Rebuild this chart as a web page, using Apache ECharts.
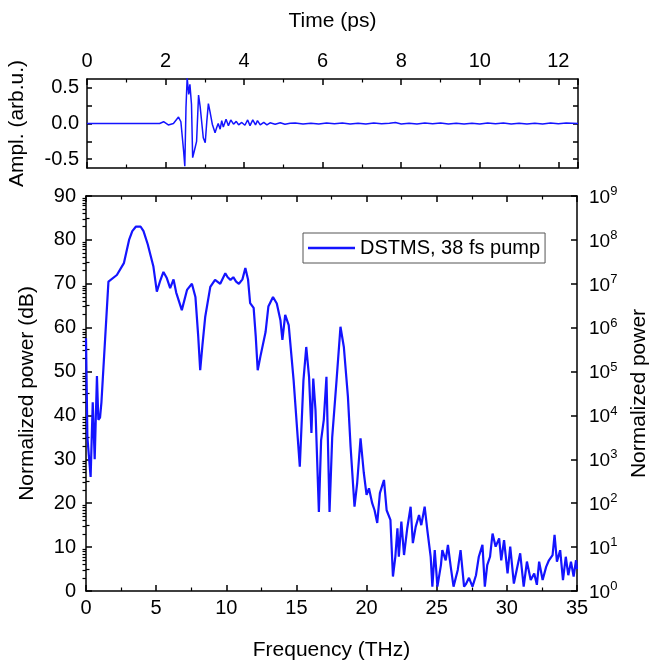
<!DOCTYPE html>
<html>
<head>
<meta charset="utf-8">
<script src="https://cdn.jsdelivr.net/npm/echarts@6/dist/echarts.min.js"></script>
<style>
  html, body { margin: 0; padding: 0; background: #fff; }
  #chart { width: 650px; height: 661px; }
</style>
</head>
<body>
<div id="chart"></div>
<script>
// time-domain trace (top panel)
const timePs = [0, 1.5, 1.85, 1.95, 2.07, 2.2, 2.33, 2.39, 2.46, 2.49, 2.52, 2.55, 2.59, 2.62, 2.66, 2.69, 2.73,
  2.79, 2.84, 2.88, 2.92, 2.96, 3.01, 3.05, 3.09, 3.13, 3.19, 3.26, 3.3, 3.34, 3.39, 3.43, 3.47, 3.54, 3.6,
  3.66, 3.73, 3.8, 3.86, 3.94, 4.02, 4.09, 4.15, 4.22, 4.29, 4.34, 4.41, 4.5, 4.58, 4.66, 4.79, 4.92, 5.04,
  5.17, 5.3, 5.5, 5.7, 5.9, 6.1, 6.3, 6.5, 6.7, 6.9, 7.1, 7.3, 7.5, 7.7, 7.85, 8.0, 8.2, 8.4, 8.6, 8.8, 9.0,
  9.2, 9.4, 9.6, 9.8, 10.0, 10.2, 10.4, 10.6, 10.8, 11.0, 11.2, 11.4, 11.6, 11.8, 12.0, 12.2, 12.5];
const amplitude = [0, 0, 0, 0.025, -0.02, 0, 0.09, 0.025, -0.39, -0.6, 0.22, 0.64, 0.41, 0.55, 0.27, -0.48, -0.39,
  -0.25, 0.4, 0.24, 0.22, -0.2, -0.27, 0.03, 0.28, 0.17, -0.01, -0.13, -0.06, 0, -0.08, 0.04, -0.05, 0.06, -0.03,
  0.05, -0.01, 0.03, -0.02, 0.015, -0.025, 0.05, -0.03, 0.05, -0.02, 0.04, -0.02, 0.015, -0.02, 0.01, -0.01, 0.01, -0.01,
  0.005, 0.008, -0.006, 0.005, -0.008, 0.006, -0.004, 0.007, -0.006, 0.004, -0.007, 0.006, -0.005, 0.004, 0.015, -0.006,
  0.005, -0.007, 0.006, -0.004, 0.007, -0.008, 0.005, -0.006, 0.004, -0.007, 0.006, -0.005, 0.007, -0.006, 0.004,
  -0.007, 0.005, -0.006, 0.007, -0.005, 0.006, 0];

// spectrum (bottom panel)
const freqTHz = [0, 0.1, 0.2, 0.33, 0.48, 0.62, 0.7, 0.78, 0.88, 1.0, 1.1, 1.6, 2.2, 2.7, 3.07, 3.3, 3.55, 3.9, 4.1,
  4.4, 4.6, 4.8, 5.05, 5.3, 5.52, 5.76, 6.0, 6.24, 6.43, 6.83, 7.2, 7.55, 7.8, 8.0, 8.14, 8.3, 8.5, 8.86, 9.2,
  9.57, 9.93, 10.1, 10.3, 10.5, 10.7, 10.9, 11.15, 11.36, 11.55, 11.7, 11.95, 12.1, 12.24, 12.43, 12.8, 13.0,
  13.33, 13.6, 13.86, 14.0, 14.2, 14.45, 14.8, 15.24, 15.5, 15.7, 15.9, 16.07, 16.2, 16.36, 16.6, 16.76, 16.95,
  17.14, 17.36, 17.55, 17.86, 18.14, 18.38, 18.67, 18.86, 19.14, 19.33, 19.57, 19.8, 20.0, 20.17, 20.4, 20.57,
  20.76, 20.95, 21.24, 21.43, 21.7, 21.88, 22.05, 22.2, 22.3, 22.48, 22.67, 22.9, 23.14, 23.3, 23.5, 23.74,
  23.9, 24.14, 24.33, 24.57, 24.69, 24.86, 25.05, 25.3, 25.4, 25.64, 25.8, 26.0, 26.2, 26.5, 26.7, 26.95,
  27.07, 27.3, 27.55, 27.8, 28.0, 28.26, 28.43, 28.6, 28.8, 28.98, 29.2, 29.45, 29.6, 29.8, 30.05, 30.24,
  30.5, 30.7, 30.95, 31.2, 31.43, 31.7, 31.95, 32.14, 32.3, 32.55, 32.8, 33.0, 33.26, 33.4, 33.57, 33.8,
  34.0, 34.2, 34.38, 34.57, 34.76, 34.93, 35.0];
const powerDb = [57.6, 35, 31, 26, 43, 30, 30, 49, 39, 39.5, 43, 70.5, 72, 74.7, 80, 82, 83, 83, 82,
  79, 76.5, 74, 68.2, 70.8, 72.7, 71.3, 69, 71, 68, 64, 68.6, 70, 67, 58, 50.3, 56, 62.5, 69.3, 70.9,
  70, 72.4, 71.5, 70.9, 71.5, 70.5, 70, 71, 73.6, 71, 65.6, 64.5, 58, 50.3, 53.4, 59, 64.8,
  67, 65.5, 61.7, 57.2, 62.9, 60.6, 48, 28.3, 48, 55.6, 48.8, 36, 48.4, 41.2, 18, 34.4, 39,
  48.8, 18, 35, 48, 60.2, 55.6, 44.3, 32.9, 19.2, 24.6, 34.8, 27, 21.9, 23.4, 20, 18.4,
  15.5, 22.3, 25.3, 18.4, 16.2, 3.3, 7.8, 14.3, 7.8, 15.8, 8.2, 14.3, 19.2, 10.9, 14.6, 17.3,
  15, 19.2, 13.9, 7.8, 1, 9.3, 1, 5.9, 9.3, 7, 10.5, 5.5, 1, 4.8, 9.3, 1,
  1.5, 3, 1, 3.6, 7.8, 10.5, 1, 5.9, 7.8, 13.1, 10.1, 12, 7, 11.6, 4, 10.1,
  1.7, 4.8, 8.6, 1, 6.7, 2.5, 4, 1.4, 6.7, 2.5, 5.5, 7, 8.2, 12.8, 6.7, 9.3,
  2.5, 7.8, 3.6, 6.7, 3.3, 7, 5];

const seriesName = 'DSTMS, 38 fs pump';
const blue = '#1414ff';
const font = 'Arial, "Liberation Sans", sans-serif';

// minor tick positions of the log power axis, expressed in dB (10 dB per decade)
const logMinorTicks = [];
for (let n = 0; n < 9; n++) {
  for (let k = 2; k <= 9; k++) logMinorTicks.push(n * 10 + 10 * Math.log10(k));
}

const axisLine = { show: true, onZero: false, lineStyle: { color: '#000', width: 1.5 } };
const tick = { show: true, inside: true, length: 6, lineStyle: { color: '#000', width: 1.5 } };
const minor = { show: true, splitNumber: 2, length: 3.5, lineStyle: { color: '#000', width: 1.2 } };
const label = { color: '#000', fontSize: 20, fontFamily: font };
const nameStyle = { color: '#000', fontSize: 21, fontFamily: font };
const hidden = { show: false };

let chart = echarts.init(document.getElementById('chart'));
chart.setOption({
  animation: false,
  textStyle: { fontFamily: font },
  grid: [
    { left: 87, right: 72, top: 79, height: 89, outerBoundsMode: 'none', containLabel: false },
    { left: 86, right: 73, top: 196, bottom: 70, outerBoundsMode: 'none', containLabel: false }
  ],
  legend: {
    data: [{ name: seriesName, icon: 'rect' }],
    left: 303, top: 233,
    padding: [5, 5, 5, 5],
    itemWidth: 47, itemHeight: 2.5, itemGap: 5,
    borderColor: '#555', borderWidth: 1,
    textStyle: { color: '#000', fontSize: 20, fontFamily: font }
  },
  xAxis: [
    {
      gridIndex: 0, type: 'value', position: 'top', min: 0, max: 12.5, interval: 2,
      name: 'Time (ps)', nameLocation: 'middle', nameGap: 47, nameTextStyle: nameStyle,
      axisLine, axisTick: tick, minorTick: minor, splitLine: hidden,
      axisLabel: Object.assign({ margin: 8, showMaxLabel: false }, label)
    },
    {
      gridIndex: 0, type: 'value', position: 'bottom', min: 0, max: 12.5, interval: 2,
      axisLine, axisTick: tick, minorTick: minor, splitLine: hidden, axisLabel: hidden
    },
    {
      gridIndex: 1, type: 'value', position: 'bottom', min: 0, max: 35, interval: 5,
      name: 'Frequency (THz)', nameLocation: 'middle', nameGap: 49, nameTextStyle: nameStyle,
      axisLine, axisTick: tick, minorTick: minor, splitLine: hidden,
      axisLabel: Object.assign({ margin: 7 }, label)
    },
    {
      gridIndex: 1, type: 'value', position: 'top', min: 0, max: 35, interval: 5,
      axisLine, axisTick: tick, minorTick: minor, splitLine: hidden, axisLabel: hidden
    }
  ],
  yAxis: [
    {
      gridIndex: 0, type: 'value', position: 'left', min: -0.625, max: 0.625,
      name: 'Ampl. (arb.u.)', nameLocation: 'middle', nameGap: 59, nameTextStyle: nameStyle,
      axisLine, splitLine: hidden,
      axisTick: Object.assign({}, tick, { length: 5, customValues: [-0.5, -0.25, 0, 0.25, 0.5] }),
      axisLabel: Object.assign({ margin: 8, customValues: [-0.5, 0, 0.5], formatter: v => v.toFixed(1) }, label)
    },
    {
      gridIndex: 0, type: 'value', position: 'right', min: -0.625, max: 0.625,
      axisLine, splitLine: hidden, axisLabel: hidden,
      axisTick: Object.assign({}, tick, { length: 5, customValues: [-0.5, -0.25, 0, 0.25, 0.5] })
    },
    {
      gridIndex: 1, type: 'value', position: 'left', min: 0, max: 90, interval: 10,
      name: 'Normalized power (dB)', nameLocation: 'middle', nameGap: 48, nameTextStyle: nameStyle,
      axisLine, axisTick: tick, minorTick: minor, splitLine: hidden,
      axisLabel: Object.assign({ margin: 10 }, label)
    },
    {
      // right axis: power = 10^(dB/10), drawn on the same dB scale
      gridIndex: 1, type: 'value', position: 'right', min: 0, max: 90, interval: 10,
      name: 'Normalized power', nameLocation: 'middle', nameGap: 43, nameRotate: 90,
      nameTextStyle: nameStyle,
      axisLine, axisTick: tick, splitLine: hidden,
      axisLabel: {
        margin: 12,
        formatter: v => '{b|10}{s|' + Math.round(v / 10) + '}',
        rich: {
          b: { color: '#000', fontSize: 19, fontFamily: font, verticalAlign: 'bottom' },
          s: { color: '#000', fontSize: 13, fontFamily: font, verticalAlign: 'bottom', padding: [0, 0, 9, 0] }
        }
      }
    },
    {
      gridIndex: 1, type: 'value', position: 'right', min: 0, max: 90,
      axisLine: hidden, splitLine: hidden, axisLabel: hidden,
      axisTick: { show: true, inside: true, length: 3.5, customValues: logMinorTicks,
        lineStyle: { color: '#000', width: 1.2 } }
    }
  ],
  series: [
    {
      type: 'line', xAxisIndex: 0, yAxisIndex: 0,
      data: timePs.map((t, i) => [t, amplitude[i]]),
      showSymbol: false, symbol: 'none',
      lineStyle: { color: blue, width: 1.5 }, itemStyle: { color: blue }
    },
    {
      name: seriesName, type: 'line', xAxisIndex: 2, yAxisIndex: 2,
      data: freqTHz.map((f, i) => [f, powerDb[i]]),
      showSymbol: false, symbol: 'none',
      lineStyle: { color: blue, width: 2.2 }, itemStyle: { color: blue }
    }
  ]
});
</script>
</body>
</html>
